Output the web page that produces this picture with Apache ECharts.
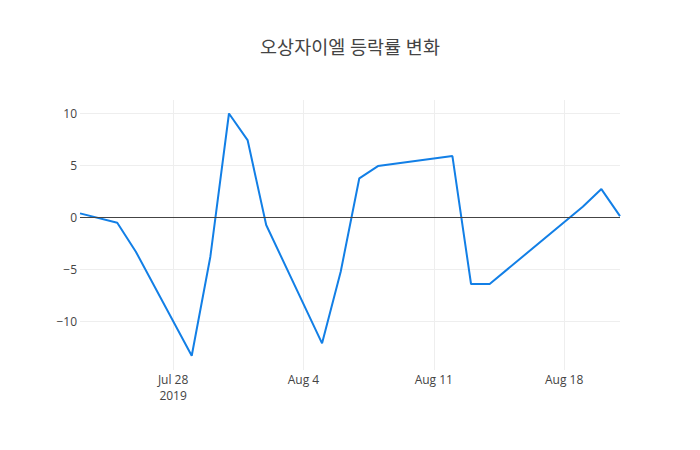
<!DOCTYPE html>
<html>
<head>
<meta charset="utf-8">
<script src="https://cdn.jsdelivr.net/npm/echarts@6/dist/echarts.min.js"></script>
<style>
html, body { margin: 0; padding: 0; background: #fff; }
#chart01 { width: 700px; height: 450px; }
</style>
</head>
<body>
<div id="chart01"></div>
<script>
// 오상자이엘 daily change (%)
var dateArr = ['2019-07-23', '2019-07-25', '2019-07-26', '2019-07-29', '2019-07-30', '2019-07-31',
    '2019-08-01', '2019-08-02', '2019-08-05', '2019-08-06', '2019-08-07', '2019-08-08',
    '2019-08-12', '2019-08-13', '2019-08-14', '2019-08-19', '2019-08-20', '2019-08-21'];
var rateArr = [0.38, -0.52, -3.31, -13.33, -3.79, 10.0,
    7.44, -0.74, -12.13, -5.24, 3.76, 4.94,
    5.9, -6.42, -6.42, 1.02, 2.72, 0.12];
var xTickDates = ['2019-07-28', '2019-08-04', '2019-08-11', '2019-08-18'];
var yTicks = [-10, -5, 0, 5, 10];
var monthNames = ['Jan', 'Feb', 'Mar', 'Apr', 'May', 'Jun', 'Jul', 'Aug', 'Sep', 'Oct', 'Nov', 'Dec'];

var DAY = 86400000;
var origin = Date.UTC(2019, 6, 28); // first x tick

function dayOffset(s) {
    var p = s.split('-');
    return Math.round((Date.UTC(+p[0], +p[1] - 1, +p[2]) - origin) / DAY);
}

var seriesData = [];
for (var i = 0; i < dateArr.length; i++) {
    seriesData.push([dayOffset(dateArr[i]), rateArr[i]]);
}
var xTicks = xTickDates.map(dayOffset);

var chart01 = echarts.init(document.getElementById("chart01"), null, {renderer: 'svg'});
var font = '"Open Sans", "Noto Sans CJK KR", sans-serif';

var option = {
    backgroundColor: '#fff',
    animation: false,
    title: {
        text: '오상자이엘 등락률 변화',
        left: 'center',
        top: 32,
        textStyle: {fontFamily: font, fontSize: 18.5, fontWeight: 'normal', color: '#444'}
    },
    grid: {left: 80, right: 80, top: 100, bottom: 80},
    xAxis: {
        type: 'value',
        min: seriesData[0][0],
        max: seriesData[seriesData.length - 1][0],
        axisLine: {show: false},
        axisTick: {show: false, customValues: xTicks},
        splitLine: {show: true, lineStyle: {color: '#eee', width: 1}},
        axisLabel: {
            customValues: xTicks,
            margin: 1,
            fontFamily: font,
            fontSize: 12,
            color: '#444',
            lineHeight: 16,
            formatter: function (v) {
                var d = new Date(origin + v * DAY);
                var s = monthNames[d.getUTCMonth()] + ' ' + d.getUTCDate();
                if (v === 0) s += '\n' + d.getUTCFullYear();
                return s;
            }
        }
    },
    yAxis: {
        type: 'value',
        min: -14.7,
        max: 11.3,
        axisLine: {show: false},
        axisTick: {show: false, customValues: yTicks},
        splitLine: {show: true, lineStyle: {color: '#eee', width: 1}},
        axisLabel: {
            customValues: yTicks,
            margin: 3,
            fontFamily: font,
            fontSize: 12,
            color: '#444',
            formatter: function (v) {
                return String(v).replace('-', '\u2212');
            }
        }
    },
    series: [{
        type: 'line',
        data: seriesData,
        showSymbol: false,
        symbol: 'none',
        lineStyle: {color: '#127fe6', width: 2},
        markLine: {
            silent: true,
            symbol: 'none',
            label: {show: false},
            lineStyle: {color: '#444', width: 1, type: 'solid'},
            data: [{yAxis: 0}]
        },
        z: 3
    }]
};
chart01.setOption(option, true);
</script>
</body>
</html>
